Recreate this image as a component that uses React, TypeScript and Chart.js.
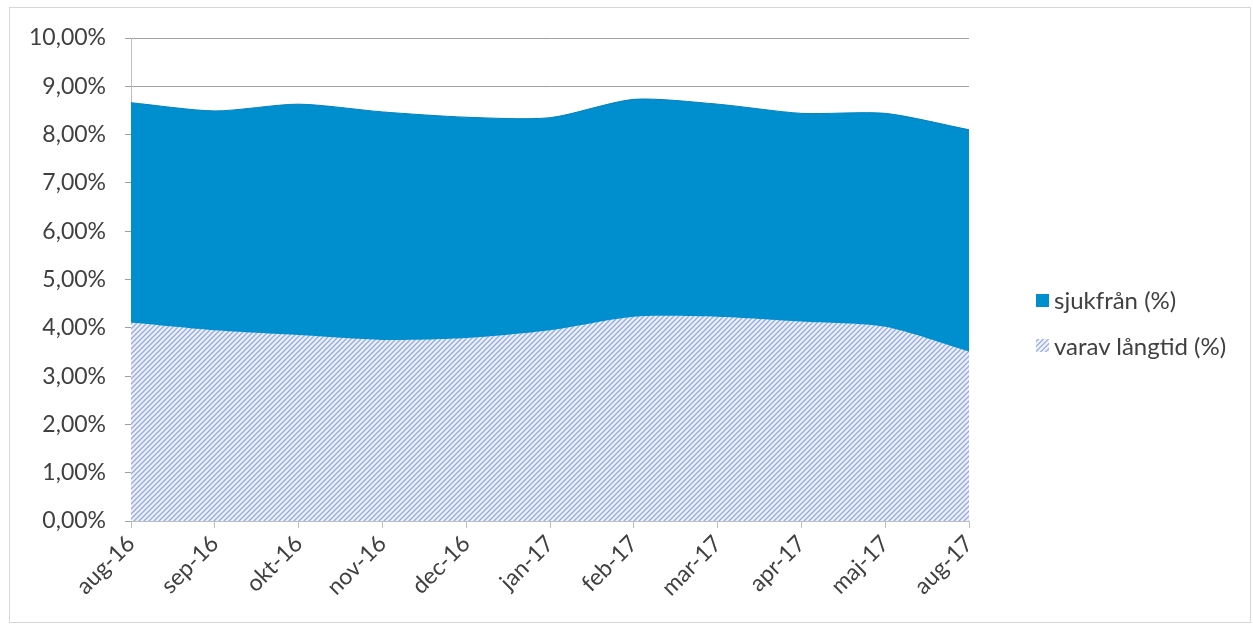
import React, { useEffect, useRef } from "react";
import { Chart, registerables } from "chart.js";

Chart.register(...registerables);

const categories = ["aug-16", "sep-16", "okt-16", "nov-16", "dec-16", "jan-17", "feb-17", "mar-17", "apr-17", "maj-17", "aug-17"];
const sjukfran = [8.66, 8.49, 8.63, 8.47, 8.36, 8.35, 8.73, 8.63, 8.44, 8.44, 8.1];
const langtid = [4.11, 3.95, 3.85, 3.75, 3.79, 3.95, 4.23, 4.23, 4.13, 4.02, 3.51];
const seriesNames = ["sjukfrån (%)", "varav långtid (%)"];
const yTicks = [0, 1, 2, 3, 4, 5, 6, 7, 8, 9, 10];

const BLUE = "rgb(0,143,206)";
const FONT = "Lato, 'Noto Sans', sans-serif";

function makeHatch(): CanvasPattern | string {
  const s = 5;
  const c = document.createElement("canvas");
  c.width = s;
  c.height = s;
  const g = c.getContext("2d");
  if (!g) return "rgb(205,215,242)";
  g.fillStyle = "rgb(236,240,251)";
  g.fillRect(0, 0, s, s);
  g.strokeStyle = "rgb(150,170,226)";
  g.lineWidth = 1.3;
  g.beginPath();
  g.moveTo(-1, s + 1);
  g.lineTo(s + 1, -1);
  g.moveTo(-1, 1);
  g.lineTo(1, -1);
  g.moveTo(s - 1, s + 1);
  g.lineTo(s + 1, s - 1);
  g.stroke();
  const p = g.createPattern(c, "repeat");
  return p || "rgb(205,215,242)";
}

export default function App() {
  const ref = useRef<HTMLCanvasElement>(null);

  useEffect(() => {
    document.body.style.margin = "0";
    if (!ref.current) return;
    const hatch = makeHatch();
    const chart = new Chart(ref.current, {
      type: "line",
      data: {
        labels: categories,
        datasets: [
          {
            label: seriesNames[0],
            data: sjukfran,
            backgroundColor: BLUE,
            borderColor: "rgb(0,128,190)",
            borderWidth: 1,
            fill: "origin",
            pointRadius: 0,
            tension: 0.25,
            order: 2,
          },
          {
            label: seriesNames[1],
            data: langtid,
            backgroundColor: hatch as any,
            borderColor: "rgba(0,0,0,0)",
            borderWidth: 0,
            fill: "origin",
            pointRadius: 0,
            tension: 0.25,
            order: 1,
          },
        ],
      },
      options: {
        animation: false,
        responsive: false,
        maintainAspectRatio: false,
        layout: { padding: { left: 0, right: 284, top: 38, bottom: 0 } },
        plugins: {
          legend: { display: false },
          tooltip: { enabled: false },
        },
        scales: {
          x: {
            offset: false,
            afterFit: (scale: any) => {
              scale.height = 110;
            },
            grid: {
              display: true,
              drawOnChartArea: false,
              tickLength: 7,
              color: "rgb(190,190,190)",
            },
            border: { display: true, color: "rgb(190,190,190)", width: 1 },
            ticks: {
              autoSkip: false,
              maxRotation: 45,
              minRotation: 45,
              padding: 2,
              color: "#404040",
              font: { family: FONT, size: 23 },
            },
          },
          y: {
            min: 0,
            max: 10,
            afterFit: (scale: any) => {
              scale.width = 131;
            },
            afterBuildTicks: (scale: any) => {
              scale.ticks = yTicks.map((v) => ({ value: v }));
            },
            grid: {
              display: true,
              drawOnChartArea: true,
              tickLength: 6,
              color: "rgb(160,160,160)",
            },
            border: { display: true, color: "rgb(190,190,190)", width: 1 },
            ticks: {
              padding: 19,
              color: "#404040",
              font: { family: FONT, size: 23 },
              callback: (v: any) => Number(v).toFixed(2).replace(".", ",") + "%",
            },
          },
        },
      },
    });
    return () => chart.destroy();
  }, []);

  const legendText: React.CSSProperties = {
    position: "absolute",
    left: 1054,
    fontFamily: FONT,
    fontSize: 24,
    color: "#404040",
    lineHeight: "28px",
    whiteSpace: "nowrap",
  };

  return (
    <div style={{ position: "relative", width: 1253, height: 631, background: "#fff" }}>
      <canvas ref={ref} width={1253} height={631} style={{ position: "absolute", left: 0, top: 0 }} />
      <div
        style={{
          position: "absolute",
          left: 9,
          top: 7,
          width: 1240,
          height: 614,
          border: "1px solid rgb(215,215,215)",
          pointerEvents: "none",
        }}
      />
      <div style={{ position: "absolute", left: 1036, top: 294, width: 13, height: 13, background: BLUE }} />
      <div style={{ ...legendText, top: 286 }}>{seriesNames[0]}</div>
      <div
        style={{
          position: "absolute",
          left: 1036,
          top: 339,
          width: 13,
          height: 13,
          background:
            "repeating-linear-gradient(-45deg, rgb(236,240,251) 0px, rgb(236,240,251) 2px, rgb(170,185,225) 2px, rgb(170,185,225) 3.5px)",
        }}
      />
      <div style={{ ...legendText, top: 332 }}>{seriesNames[1]}</div>
    </div>
  );
}
